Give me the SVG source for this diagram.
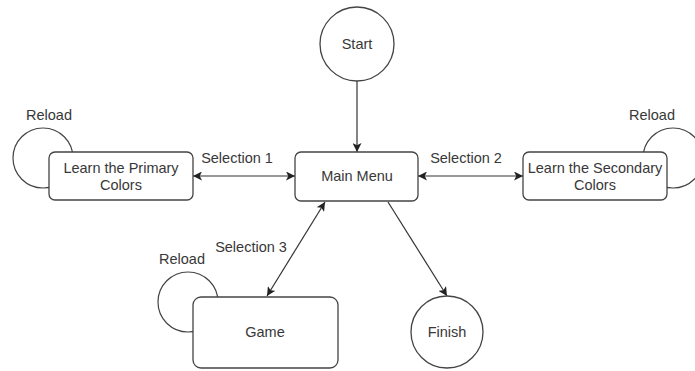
<svg xmlns="http://www.w3.org/2000/svg" width="695" height="371" viewBox="0 0 695 371">
  <style>
    .shape { fill: #ffffff; stroke: #444444; stroke-width: 1.3; }
    .loop { fill: none; stroke: #444444; stroke-width: 1.2; }
    .edge { fill: none; stroke: #333333; stroke-width: 1.2; }
    text { font-family: "Liberation Sans", Arial, sans-serif; font-size: 14.5px; fill: #383838; text-anchor: middle; }
  </style>
  <defs>
    <marker id="arrow" viewBox="0 0 10 10" refX="10" refY="5" markerWidth="9" markerHeight="9" markerUnits="userSpaceOnUse" orient="auto-start-reverse">
      <path d="M0,0 L10,5 L0,10 L2.5,5 Z" fill="#222222"/>
    </marker>
  </defs>
  <rect width="695" height="371" fill="#ffffff"/>

  <!-- self loops sit behind their boxes -->
  <g id="loops">
    <circle class="loop" cx="43" cy="158" r="30"/>
    <circle class="loop" cx="673" cy="158" r="30"/>
    <circle class="loop" cx="188" cy="302" r="30"/>
  </g>

  <g id="connectors">
    <line class="edge" x1="357" y1="81" x2="357" y2="152" marker-end="url(#arrow)"/>
    <line class="edge" x1="193" y1="176" x2="295" y2="176" marker-start="url(#arrow)" marker-end="url(#arrow)"/>
    <line class="edge" x1="418" y1="176" x2="523" y2="176" marker-start="url(#arrow)" marker-end="url(#arrow)"/>
    <line class="edge" x1="267" y1="296" x2="325" y2="202" marker-start="url(#arrow)" marker-end="url(#arrow)"/>
    <line class="edge" x1="388" y1="202" x2="447" y2="296" marker-end="url(#arrow)"/>
    <text x="237" y="163">Selection 1</text>
    <text x="466" y="163">Selection 2</text>
    <text x="251" y="252">Selection 3</text>
    <text x="49" y="120">Reload</text>
    <text x="652" y="120">Reload</text>
    <text x="182" y="264">Reload</text>
  </g>

  <g id="start">
    <circle class="shape" cx="357" cy="44" r="37"/>
    <text x="357" y="49">Start</text>
  </g>

  <g id="main-menu">
    <rect class="shape" x="295" y="152" width="123" height="49" rx="6"/>
    <text x="357" y="181">Main Menu</text>
  </g>

  <g id="primary">
    <rect class="shape" x="49" y="152" width="144" height="48" rx="6"/>
    <text x="121" y="173">Learn the Primary</text>
    <text x="121" y="190">Colors</text>
  </g>

  <g id="secondary">
    <rect class="shape" x="523" y="152" width="144" height="48" rx="6"/>
    <text x="595" y="173">Learn the Secondary</text>
    <text x="595" y="190">Colors</text>
  </g>

  <g id="game">
    <rect class="shape" x="193" y="297" width="145" height="71" rx="8"/>
    <text x="265" y="337">Game</text>
  </g>

  <g id="finish">
    <circle class="shape" cx="447" cy="332" r="36"/>
    <text x="447" y="337">Finish</text>
  </g>
</svg>
